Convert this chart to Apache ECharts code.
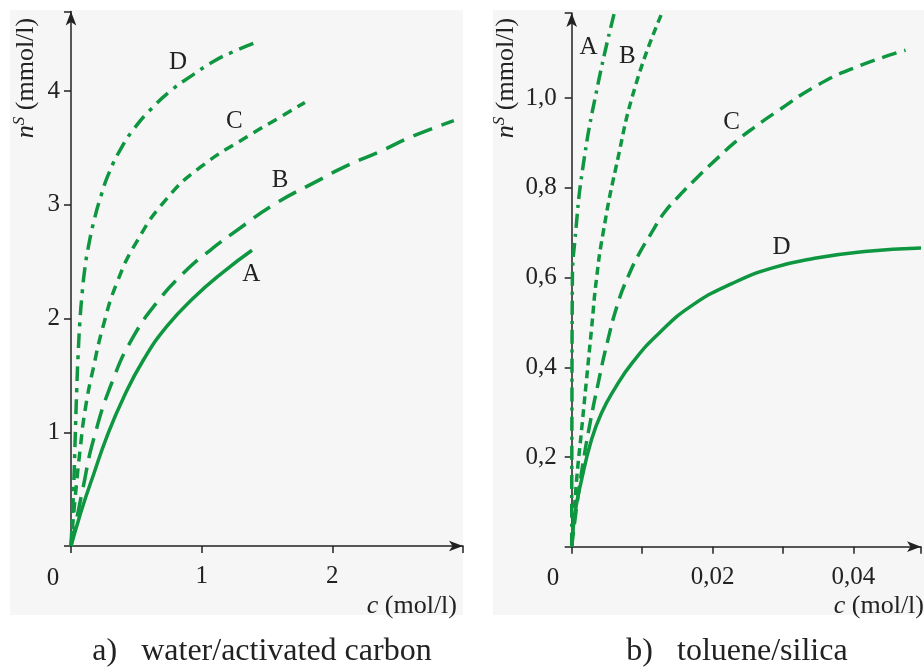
<!DOCTYPE html>
<html>
<head>
<meta charset="utf-8">
<script src="https://cdn.jsdelivr.net/npm/echarts@6/dist/echarts.min.js"></script>
<style>
  html, body { margin: 0; padding: 0; background: #fff; }
  #chart { width: 924px; height: 667px; }
</style>
</head>
<body>
<div id="chart"></div>
<script>
// a) water/activated carbon  [c (mol/l), n (mmol/l)]
const waterA = [[0, 0], [0.04, 0.16], [0.09, 0.35], [0.17, 0.62], [0.274, 0.96], [0.40, 1.30], [0.554, 1.635], [0.733, 1.93], [0.937, 2.18], [1.167, 2.41], [1.385, 2.60]]
const waterB = [[0, 0], [0.04, 0.22], [0.09, 0.50], [0.171, 0.93], [0.324, 1.47], [0.477, 1.84], [0.657, 2.14], [0.861, 2.40], [1.065, 2.60], [1.30, 2.80], [1.55, 3.00], [1.887, 3.21], [2.125, 3.35], [2.368, 3.47], [2.61, 3.60], [2.93, 3.74]]
const waterC = [[0, 0], [0.03, 0.40], [0.07, 0.85], [0.11, 1.21], [0.17, 1.56], [0.25, 1.95], [0.35, 2.31], [0.50, 2.67], [0.73, 3.05], [0.99, 3.33], [1.35, 3.60], [1.60, 3.77], [1.79, 3.90]]
const waterD = [[0, 0], [0.01, 0.24], [0.02, 0.5], [0.032, 0.95], [0.044, 1.38], [0.056, 1.72], [0.069, 1.99], [0.082, 2.18], [0.105, 2.43], [0.133, 2.63], [0.176, 2.86], [0.23, 3.08], [0.291, 3.28], [0.38, 3.49], [0.483, 3.67], [0.62, 3.85], [0.771, 4.01], [0.93, 4.14], [1.09, 4.26], [1.25, 4.35], [1.42, 4.43]]

// b) toluene/silica
const tolA = [[0, 0], [0.00003, 0.3], [0.0001, 0.6], [0.00046, 0.684], [0.0016, 0.847], [0.00375, 1.033], [0.0061, 1.193]]
const tolB = [[0, 0], [0.0007, 0.149], [0.0014, 0.26], [0.0021, 0.372], [0.0028, 0.483], [0.0035, 0.595], [0.00445, 0.699], [0.0063, 0.847], [0.00915, 1.033], [0.0129, 1.193]]
const tolC = [[0, 0], [0.0007, 0.089], [0.0016, 0.186], [0.0026, 0.275], [0.0037, 0.36], [0.0050, 0.452], [0.00656, 0.543], [0.0080, 0.602], [0.0096, 0.654], [0.0113, 0.699], [0.0131, 0.744], [0.0153, 0.783], [0.0176, 0.820], [0.0204, 0.862], [0.0232, 0.902], [0.0261, 0.937], [0.0293, 0.972], [0.035, 1.030], [0.041, 1.073], [0.0474, 1.107]]
const tolD = [[0, 0], [0.00046, 0.074], [0.0014, 0.149], [0.0028, 0.238], [0.0042, 0.297], [0.0061, 0.352], [0.0087, 0.412], [0.0124, 0.476], [0.0171, 0.538], [0.0228, 0.587], [0.0284, 0.621], [0.0345, 0.643], [0.0416, 0.658], [0.0496, 0.666]]

// curve letters and where they sit
const waterLabels = [['A', 1.38, 2.39], ['B', 1.60, 3.21], ['C', 1.25, 3.73], ['D', 0.82, 4.25]]
const tolLabels = [['A', 0.0024, 1.114], ['B', 0.0079, 1.094], ['C', 0.0227, 0.945], ['D', 0.0298, 0.668]]

const waterYTicks = [1, 2, 3, 4]
const tolYTicks = [0.2, 0.4, 0.6, 0.8, 1.0]

const green = '#0e9640'
const ink = '#222'
const serif = '"Liberation Serif", "DejaVu Serif", serif'

let mycharts = echarts.init(document.getElementById('chart'))

//軸的共通設定
function axisBase(gi) {
  return {
    gridIndex: gi,
    splitLine: { show: false },
    axisLine: {
      show: true,
      onZero: false,
      symbol: ['none', 'arrow'],
      symbolSize: [8, 14],
      lineStyle: { color: ink, width: 1.5 },
    },
    axisTick: { show: true, inside: false, length: 7, lineStyle: { color: ink, width: 1.5 } },
  }
}

function curve(data, xi, dash, label) {
  return {
    type: 'line',
    xAxisIndex: xi,
    yAxisIndex: xi,
    data: data,
    smooth: 0.5,
    showSymbol: false,
    symbol: 'none',
    lineStyle: { color: green, width: 3.5, type: dash, cap: 'butt' },
    markPoint: {
      symbol: 'circle',
      symbolSize: 1,
      itemStyle: { color: 'rgba(0,0,0,0)' },
      label: { show: true, position: 'inside', color: ink, fontFamily: serif, fontSize: 25, formatter: label[0] },
      data: [{ coord: [label[1], label[2]] }],
    },
    silent: true,
    z: 3,
  }
}

const find = (arr, k) => arr.find((l) => l[0] === k)
const comma = (v, d) => v.toFixed(d).replace('.', ',')

const axisName = (x) => ({
  type: 'text', x: x, y: 606,
  style: {
    text: '{i|c} (mol/l)', font: '26px ' + serif, fill: ink, align: 'right', verticalAlign: 'middle',
    rich: { i: { fontStyle: 'italic', fontFamily: serif, fontSize: 26, fill: ink } },
  },
})
const yName = (x) => ({
  type: 'text', x: x, y: 78, rotation: Math.PI / 2,
  style: {
    text: '{i|n}{s|S} (mmol/l)', font: '26px ' + serif, fill: ink, align: 'center', verticalAlign: 'middle',
    rich: {
      i: { fontStyle: 'italic', fontFamily: serif, fontSize: 26, fill: ink },
      s: { fontStyle: 'italic', fontFamily: serif, fontSize: 17, fill: ink, verticalAlign: 'top', padding: [0, 0, 12, 0] },
    },
  },
})

mycharts.setOption({
  animation: false,
  grid: [
    { left: 71, top: 11.4, width: 392, height: 534.6 },
    { left: 571.7, top: 13, width: 352.3, height: 533.7 },
  ],
  xAxis: [
    Object.assign(axisBase(0), {
      type: 'value', min: 0, max: 3, interval: 1,
      axisLabel: { color: ink, fontFamily: serif, fontSize: 25, margin: 18, formatter: (v) => (v === 0 || v === 3 ? '' : String(v)) },
    }),
    Object.assign(axisBase(1), {
      type: 'value', min: 0, max: 0.0496, interval: 0.01,
      axisLabel: {
        color: ink, fontFamily: serif, fontSize: 25, margin: 18,
        formatter: (v) => (Math.abs(v - 0.02) < 1e-6 || Math.abs(v - 0.04) < 1e-6 ? comma(v, 2) : ''),
      },
    }),
  ],
  yAxis: [
    Object.assign(axisBase(0), {
      type: 'value', min: 0, max: 4.7, interval: 1,
      axisLabel: { color: ink, fontFamily: serif, fontSize: 25, margin: 11, formatter: (v) => (waterYTicks.includes(v) ? String(v) : '') },
    }),
    Object.assign(axisBase(1), {
      type: 'value', min: 0, max: 1.19, interval: 0.2,
      axisLabel: {
        color: ink, fontFamily: serif, fontSize: 25, margin: 15,
        formatter: (v) => (tolYTicks.some((t) => Math.abs(t - v) < 1e-6) ? comma(v, 1) : ''),
      },
    }),
  ],
  graphic: [
    { type: 'rect', z: -10, shape: { x: 10, y: 10, width: 453, height: 605 }, style: { fill: '#f6f6f6' } },
    { type: 'rect', z: -10, shape: { x: 493, y: 10, width: 431, height: 605 }, style: { fill: '#f6f6f6' } },
    { type: 'text', x: 53, y: 578, style: { text: '0', font: '25px ' + serif, fill: ink, align: 'center', verticalAlign: 'middle' } },
    { type: 'text', x: 553, y: 578, style: { text: '0', font: '25px ' + serif, fill: ink, align: 'center', verticalAlign: 'middle' } },
    axisName(457),
    axisName(924),
    yName(26),
    yName(506),
    { type: 'text', x: 262, y: 652, style: { text: 'a)   water/activated carbon', font: '32px ' + serif, fill: ink, align: 'center', verticalAlign: 'middle' } },
    { type: 'text', x: 737, y: 652, style: { text: 'b)   toluene/silica', font: '32px ' + serif, fill: ink, align: 'center', verticalAlign: 'middle' } },
  ],
  series: [
    curve(waterA, 0, 'solid', find(waterLabels, 'A')),
    curve(waterB, 0, [20, 10], find(waterLabels, 'B')),
    curve(waterC, 0, [10, 7], find(waterLabels, 'C')),
    curve(waterD, 0, [15, 7, 4, 7], find(waterLabels, 'D')),
    curve(tolA, 1, [14, 6, 3, 6], find(tolLabels, 'A')),
    curve(tolB, 1, [8, 5], find(tolLabels, 'B')),
    curve(tolC, 1, [15, 8], find(tolLabels, 'C')),
    curve(tolD, 1, 'solid', find(tolLabels, 'D')),
  ],
})
</script>
</body>
</html>
